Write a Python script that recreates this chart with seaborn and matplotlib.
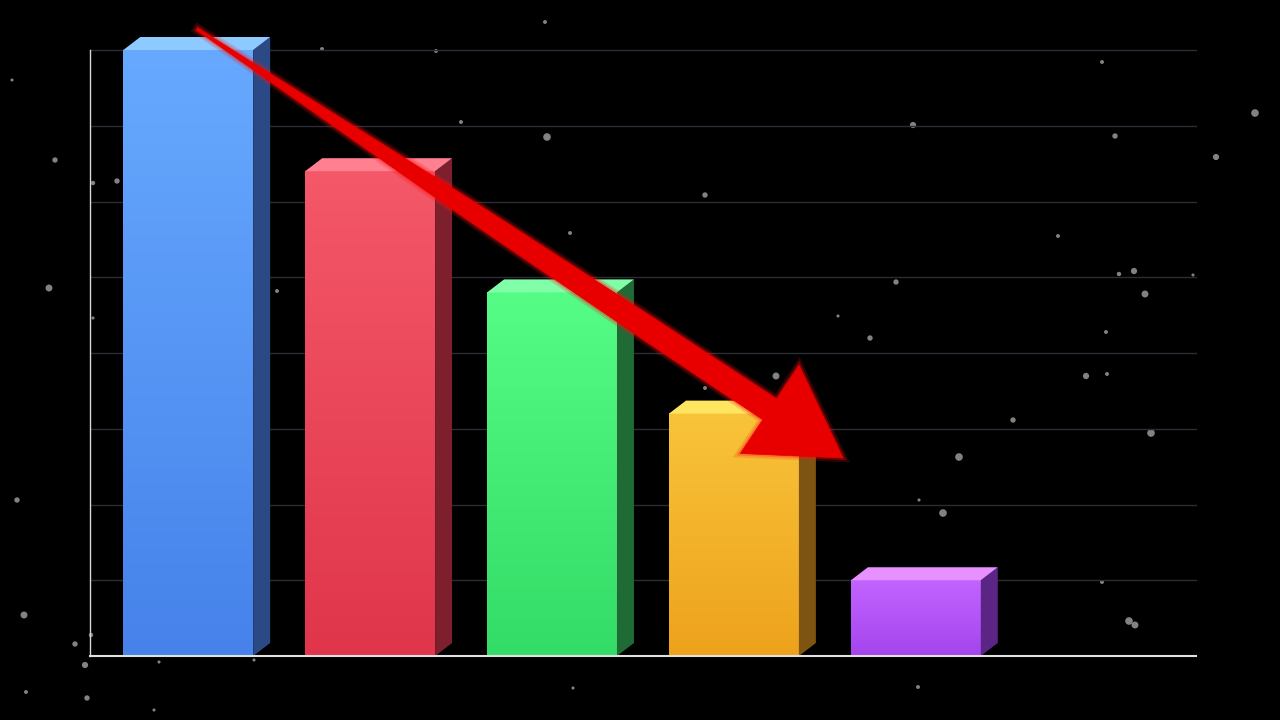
import numpy as np
import pandas as pd
import seaborn as sns
import matplotlib.pyplot as plt
from matplotlib.patches import Polygon
from matplotlib.colors import LinearSegmentedColormap, to_rgb
import matplotlib.patheffects as pe

# Bar data (no labels shown in the chart)
categories = ["A", "B", "C", "D", "E"]
values = [8.0, 6.4, 4.8, 3.2, 1.0]

# Colours per bar: front top, front bottom, side face, top face
front_top = ["#67a9ff", "#f45869", "#55fc86", "#f8c43a", "#c264ff"]
front_bottom = ["#4682ea", "#e0354a", "#33dc66", "#eea21c", "#a444ee"]
side_colors = ["#2b4a85", "#7d1f2d", "#1f6a35", "#7d5412", "#5a2585"]
top_colors = ["#8ccaff", "#ff8090", "#80ffa8", "#ffe660", "#e890ff"]

# Background star decoration (pixel positions and sizes)
star_x = [545, 322, 436, 1102, 12, 1255, 547, 913, 1115, 55, 1216, 117, 93, 705,
          1058, 570, 1134, 1119, 1193, 49, 896, 277, 1145, 838, 93, 870, 1106,
          1107, 1086, 776, 1013, 1151, 959, 919, 943, 17, 1102, 24, 1129, 1135,
          91, 75, 85, 159, 254, 573, 918, 26, 87, 154, 461, 527, 705]
star_y = [22, 49, 51, 62, 80, 113, 137, 125, 136, 160, 157, 181, 183, 195,
          236, 233, 271, 274, 275, 288, 282, 291, 294, 316, 318, 338, 332,
          374, 376, 376, 420, 433, 457, 500, 513, 500, 582, 615, 621, 625,
          635, 644, 665, 662, 660, 688, 687, 692, 698, 710, 122, 283, 388]
star_s = [8, 8, 8, 8, 5, 30, 30, 20, 15, 15, 20, 15, 10, 15,
          8, 8, 20, 10, 5, 25, 15, 8, 25, 5, 5, 15, 8,
          8, 20, 25, 15, 30, 30, 5, 30, 15, 8, 25, 30, 25,
          10, 15, 20, 5, 5, 5, 8, 8, 15, 5, 8, 5, 8]

df = pd.DataFrame({"category": categories, "value": values})

fig = plt.figure(figsize=(12.8, 7.2), dpi=100, facecolor="black")

# Star layer behind everything
bg = fig.add_axes([0, 0, 1, 1], zorder=0)
bg.set_facecolor("black")
bg.set_xlim(0, 1280)
bg.set_ylim(720, 0)
bg.axis("off")
bg.scatter(star_x, star_y, s=star_s, color="#9a9a9a", alpha=0.85, linewidths=0)

ax = fig.add_axes([90 / 1280, 1 - 656 / 720, 1106 / 1280, 606 / 720], zorder=1)
ax.set_facecolor("none")

mid_colors = [
    tuple((np.array(to_rgb(a)) + np.array(to_rgb(b))) / 2)
    for a, b in zip(front_top, front_bottom)
]

sns.barplot(
    data=df,
    x="category",
    y="value",
    hue="category",
    palette=mid_colors,
    legend=False,
    width=0.714,
    ax=ax,
    zorder=3,
)

# depth of the fake 3D faces, in data units
dx = 17 / 182
dy = 13 / 75.75

for i, bar in enumerate(ax.patches):
    x0 = bar.get_x()
    w = bar.get_width()
    h = bar.get_height()

    # vertical gradient on the front face
    cmap = LinearSegmentedColormap.from_list(
        f"g{i}", [front_bottom[i], front_top[i]]
    )
    grad = np.linspace(0, 1, 256).reshape(-1, 1)
    ax.imshow(
        grad,
        extent=(x0, x0 + w, 0, h),
        origin="lower",
        aspect="auto",
        cmap=cmap,
        zorder=4,
    )

    side = Polygon(
        [(x0 + w, 0), (x0 + w + dx, dy), (x0 + w + dx, h + dy), (x0 + w, h)],
        closed=True,
        facecolor=side_colors[i],
        edgecolor="none",
        zorder=4,
        clip_on=False,
    )
    ax.add_patch(side)

    top = Polygon(
        [(x0, h), (x0 + dx, h + dy), (x0 + w + dx, h + dy), (x0 + w, h)],
        closed=True,
        facecolor=top_colors[i],
        edgecolor="none",
        zorder=4,
        clip_on=False,
    )
    ax.add_patch(top)

ax.set_xlim(-0.54, 5.54)
ax.set_ylim(0, 8)

# gridlines
for yv in range(1, 9):
    ax.axhline(yv, color="#2c2c36", linewidth=1, zorder=1, clip_on=False)

for name in ["top", "right"]:
    ax.spines[name].set_visible(False)
ax.spines["left"].set_color("#d8d8d8")
ax.spines["left"].set_linewidth(1)
ax.spines["bottom"].set_color("#e0e0e0")
ax.spines["bottom"].set_linewidth(1.5)
ax.spines["bottom"].set_zorder(5)
ax.set_xticks([])
ax.set_yticks([])
ax.set_xlabel("")
ax.set_ylabel("")

# Red trend arrow (annotation, drawn in pixel space)
start = np.array([197.0, 29.0])
tip = np.array([843.0, 458.0])
length = np.linalg.norm(tip - start)
u = (tip - start) / length
n = np.array([-u[1], u[0]])
head_len = 88
head_half = 53
# tapered shaft: (fraction along the shaft, half width in px)
shaft = [(0.0, 1.3), (0.18, 4.2), (0.41, 8.3), (0.5, 9.5), (0.78, 11.8), (1.0, 12.5)]
shaft_len = length - head_len
upper = [start + f * shaft_len * u + hw * n for f, hw in shaft]
lower = [start + f * shaft_len * u - hw * n for f, hw in shaft]
base = start + shaft_len * u
pts_px = upper + [base + head_half * n, tip, base - head_half * n] + lower[::-1]
pts_fig = [(p[0] / 1280, 1 - p[1] / 720) for p in pts_px]
arrow = Polygon(
    pts_fig,
    closed=True,
    transform=fig.transFigure,
    facecolor="#e80000",
    edgecolor="#e80000",
    linewidth=0.5,
    zorder=10,
)
arrow.set_path_effects([
    pe.Stroke(linewidth=6, foreground="#ff1010", alpha=0.18),
    pe.Stroke(linewidth=3, foreground="#ff1010", alpha=0.3),
    pe.Normal(),
])
fig.patches.append(arrow)

fig.savefig("out.png", dpi=100, facecolor="black")
